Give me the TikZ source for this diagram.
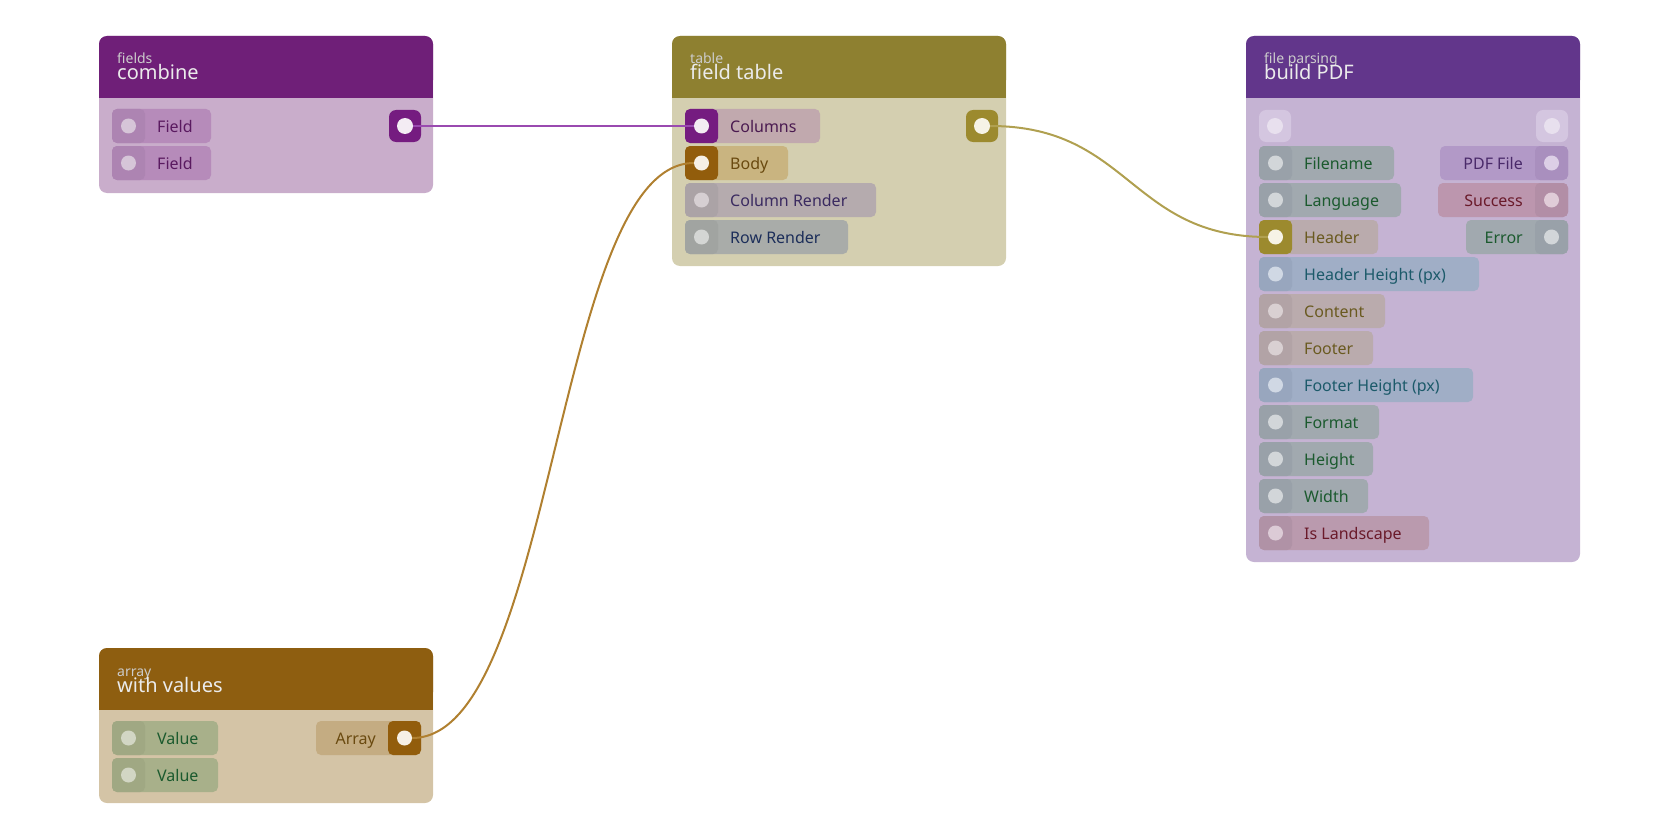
\documentclass[tikz,border=0pt]{standalone}
\usepackage{fontspec}
\setmainfont{Noto Sans}
\begin{document}
\begin{tikzpicture}[x=1pt,y=-1pt,
  lbl/.style={font=\fontsize{16}{19}\selectfont,inner sep=0pt},
  ttl/.style={font=\fontsize{20}{22}\selectfont,inner sep=0pt,anchor=base west,text=white!92!black},
  sub/.style={font=\fontsize{14}{16}\selectfont,inner sep=0pt,anchor=base west,text=white!80!black},
  wire/.style={line width=2pt},
  dot/.style={circle,minimum size=15pt,inner sep=0pt}]
\useasboundingbox (0,0) rectangle (1680,840);
\newcommand\inpill[9]{%
  \definecolor{pa}{HTML}{#5}\definecolor{pb}{HTML}{#6}\definecolor{pc}{HTML}{#7}\definecolor{pd}{HTML}{#8}%
  \fill[pa,rounded corners=5pt] (#2,#3-17) rectangle (#4,#3+17);
  \fill[pb,rounded corners=5pt] (#2,#3-17) rectangle (#2+33,#3+17);
  \node[dot,fill=pc] (#1) at (#2+16.5,#3) {};
  \node[lbl,text=pd,anchor=base west] at (#2+45,#3+6) {#9};}
\newcommand\outpill[9]{%
  \definecolor{pa}{HTML}{#5}\definecolor{pb}{HTML}{#6}\definecolor{pc}{HTML}{#7}\definecolor{pd}{HTML}{#8}%
  \fill[pa,rounded corners=5pt] (#2,#3-17) rectangle (#4,#3+17);
  \fill[pb,rounded corners=5pt] (#4-33,#3-17) rectangle (#4,#3+17);
  \node[dot,fill=pc] (#1) at (#4-16.5,#3) {};
  \node[lbl,text=pd,anchor=base east] at (#4-45,#3+6) {#9};}
\newcommand\port[5]{%
  \definecolor{pa}{HTML}{#4}\definecolor{pb}{HTML}{#5}%
  \fill[pa,rounded corners=7pt] (#2-16,#3-16) rectangle (#2+16,#3+16);
  \node[dot,fill=pb,minimum size=16pt] (#1) at (#2,#3) {};}
\newcommand\card[7]{%
  \definecolor{ca}{HTML}{#6}\definecolor{cb}{HTML}{#7}%
  \fill[cb,rounded corners=8pt] (#1,#2) rectangle (#3,#4);
  \fill[ca,rounded corners=8pt] (#1,#2) rectangle (#3,#5-10);
  \fill[ca] (#1,#5-20) rectangle (#3,#5);}
\definecolor{wa}{HTML}{9A4AB0}\definecolor{wb}{HTML}{B0A050}\definecolor{wc}{HTML}{B08030}
% combine
\card{99}{36}{433}{193}{98}{6F1F78}{C9ADCB}
\node[sub] at (117,64) {fields};
\node[ttl] at (117,80) {combine};
\inpill{cf1}{112}{126}{211}{B68BBA}{AD84B2}{D6C5D8}{5A1A60}{Field}
\inpill{cf2}{112}{163}{211}{B68BBA}{AD84B2}{D6C5D8}{5A1A60}{Field}
\port{cout}{405}{126}{751C80}{F3ECF3}
% field table
\card{672}{36}{1006}{266}{98}{8E8030}{D4CFB0}
\node[sub] at (690,64) {table};
\node[ttl] at (690,80) {field table};
\inpill{tcol}{685}{126}{820}{C1A9AE}{751C80}{F3ECF3}{4A1A50}{Columns}
\inpill{tbody}{685}{163}{788}{C9B480}{925D0C}{F6F0E6}{6A4A10}{Body}
\inpill{tcr}{685}{200}{876}{B5ABAE}{ABA3A6}{D6CFD2}{3A2A60}{Column Render}
\inpill{trr}{685}{237}{848}{A9ACA9}{A1A4A1}{D4D6D4}{1C2E5A}{Row Render}
\port{tout}{982}{126}{9C8A2E}{F6F3E6}
% build PDF
\card{1246}{36}{1580}{562}{98}{62368B}{C5B3D3}
\node[sub] at (1264,64) {file parsing};
\node[ttl] at (1264,80) {build PDF};
\port{pin0}{1275}{126}{D4C6E0}{E8E0EE}
\port{pout0}{1552}{126}{D4C6E0}{E8E0EE}
\inpill{pfn}{1259}{163}{1394}{A1A9AF}{99A1A9}{D2D6D9}{1B5A2E}{Filename}
\inpill{plang}{1259}{200}{1401}{A1A9AF}{99A1A9}{D2D6D9}{1B5A2E}{Language}
\inpill{phead}{1259}{237}{1378}{BAABAD}{9C8A2E}{F6F3E6}{6A5A20}{Header}
\inpill{phh}{1259}{274}{1479}{A0AEC6}{98A6BE}{D0D8E4}{1C5A6A}{Header Height (px)}
\inpill{pcont}{1259}{311}{1385}{BAABAD}{B2A3A6}{D9D0D2}{6A5A20}{Content}
\inpill{pfoot}{1259}{348}{1373}{BAABAD}{B2A3A6}{D9D0D2}{6A5A20}{Footer}
\inpill{pfh}{1259}{385}{1473}{A0AEC6}{98A6BE}{D0D8E4}{1C5A6A}{Footer Height (px)}
\inpill{pfmt}{1259}{422}{1379}{A1A9AF}{99A1A9}{D2D6D9}{1B5A2E}{Format}
\inpill{phgt}{1259}{459}{1373}{A1A9AF}{99A1A9}{D2D6D9}{1B5A2E}{Height}
\inpill{pwid}{1259}{496}{1368}{A1A9AF}{99A1A9}{D2D6D9}{1B5A2E}{Width}
\inpill{pland}{1259}{533}{1429}{BA9AAE}{B092A6}{DCCBD6}{6A1A2A}{Is Landscape}
\outpill{ppdf}{1440}{163}{1568}{B299C7}{A98FBE}{DCCFE6}{4A2A6A}{PDF File}
\outpill{psucc}{1438}{200}{1568}{BC96AE}{B28EA6}{E0CCD8}{6A1A2A}{Success}
\outpill{perr}{1466}{237}{1568}{A1A9AF}{99A1A9}{D2D6D9}{1B5A2E}{Error}
% with values
\card{99}{648}{433}{803}{710}{8E5E10}{D4C4A6}
\node[sub] at (117,676) {array};
\node[ttl] at (117,692) {with values};
\inpill{v1}{112}{738}{218}{A8B08A}{A0A883}{D2D6C4}{1B5A2E}{Value}
\inpill{v2}{112}{775}{218}{A8B08A}{A0A883}{D2D6C4}{1B5A2E}{Value}
\outpill{varr}{316}{738}{421}{C4AC82}{925D0C}{F6F0E6}{6A4A10}{Array}
% wires
\draw[wire,wa] (cout.east) -- (tcol.west);
\draw[wire,wb] (tout.east) .. controls (1130,126) and (1130,237) .. (phead.west);
\draw[wire,wc] (varr.east) .. controls (555,738) and (555,163) .. (tbody.west);
\end{tikzpicture}
\end{document}
